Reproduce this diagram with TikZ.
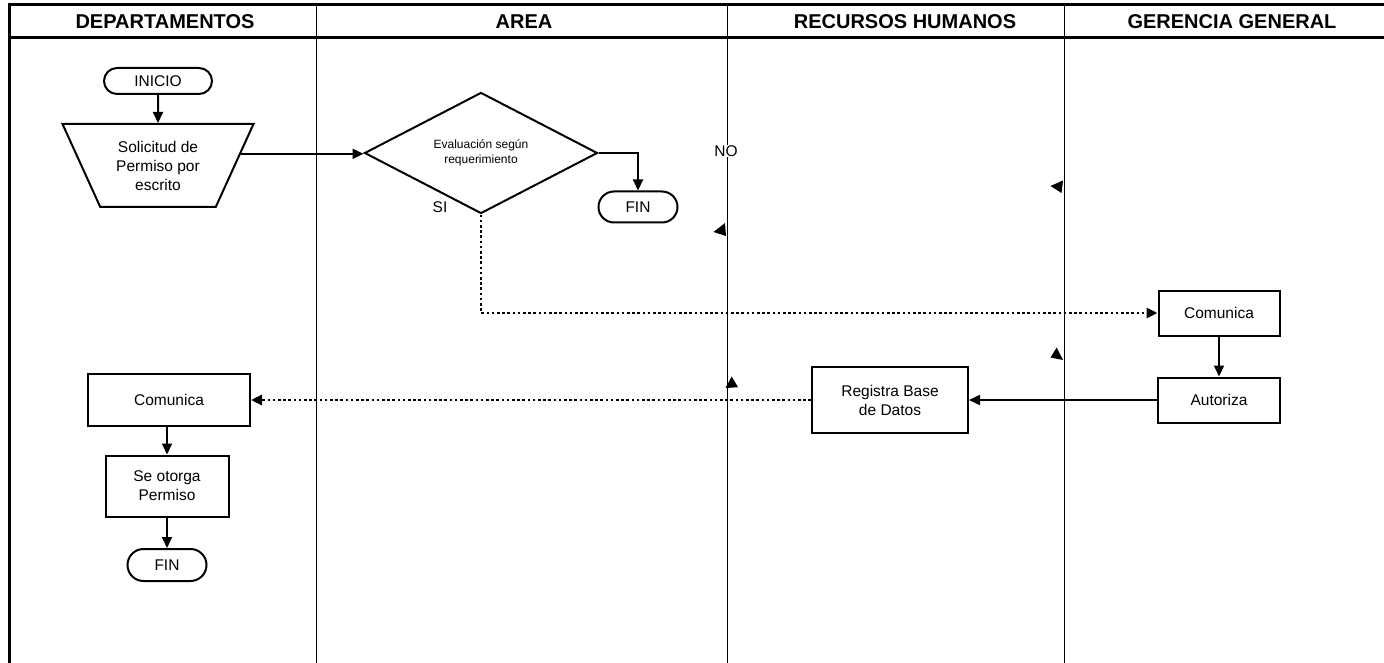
\documentclass[tikz,border=0pt]{standalone}
\usepackage{fontspec}
\setmainfont{Liberation Sans}
\usetikzlibrary{
    shapes.geometric,
    shapes.misc,
    arrows.meta
}
\tikzset{
    >={Triangle[length=11pt,width=10pt]},
    base/.style={
        draw,
        line width=2pt,
        fill=white,
        align=center,
        inner sep=0pt,
        font=\fontsize{15.5}{19}\selectfont
    },
    terminal/.style={base, rounded rectangle},
    proceso/.style={base, rectangle},
    entrada/.style={
        base,
        trapezium,
        trapezium angle=64,
        trapezium stretches body,
        shape border rotate=180,
        inner ysep=14pt
    },
    decision/.style={base, diamond, font=\fontsize{12}{15}\selectfont},
    titulo/.style={font=\bfseries\fontsize{20}{24}\selectfont},
    etiqueta/.style={font=\fontsize{15.5}{19}\selectfont},
    carril/.style={line width=1pt},
    borde/.style={line width=3pt},
    flecha/.style={->, line width=2pt},
    punteada/.style={->, line width=2.8pt, dash pattern=on 2.6pt off 2.6pt}
}
\begin{document}
\begin{tikzpicture}[
    x=1pt,
    y=-1pt
]
    \useasboundingbox (0,0) rectangle (1384,663);

    % Carriles
    \draw[borde] (9,5) -- (1384,5);
    \draw[borde] (9,38) -- (1384,38);
    \draw[borde] (9,3.5) -- (9,663);
    \foreach \x in {316,727,1064}
        \draw[carril] (\x,5) -- (\x,663);

    \node[titulo] (tdep) at (165,21.5) {DEPARTAMENTOS};
    \node[titulo] (tarea) at (524,21.5) {AREA};
    \node[titulo] (trrhh) at (905,21.5) {RECURSOS HUMANOS};
    \node[titulo] (tgg) at (1232,21.5) {GERENCIA GENERAL};

    % Nodos
    \node[terminal, minimum width=108, minimum height=26] (inicio) at (158,81) {INICIO};
    \node[entrada, minimum width=191, minimum height=83] (solicitud) at (158,165.5)
        {Solicitud de\\Permiso por\\escrito};
    \node[decision, minimum width=233, minimum height=79] (eval) at (481,153)
        {Evaluación según\\requerimiento};
    \node[terminal, minimum width=79, minimum height=31] (fin1) at (638,207) {FIN};
    \node[proceso, minimum width=121, minimum height=45] (comgg) at (1219,313) {Comunica};
    \node[proceso, minimum width=122, minimum height=45] (autoriza) at (1219,400) {Autoriza};
    \node[proceso, minimum width=156, minimum height=66] (registra) at (890,400)
        {Registra Base\\de Datos};
    \node[proceso, minimum width=162, minimum height=52] (comdep) at (169,400) {Comunica};
    \node[proceso, minimum width=123, minimum height=61] (otorga) at (167,486)
        {Se otorga\\Permiso};
    \node[terminal, minimum width=79, minimum height=32] (fin2) at (167,565) {FIN};

    \node[etiqueta] (si) at (440,207) {SI};
    \node[etiqueta, fill=white, inner sep=1pt] (no) at (726,151) {NO};

    % Conexiones
    \draw[flecha] (inicio) -- (solicitud);
    \draw[flecha] (solicitud.8.6) -- (solicitud.8.6 -| eval.west);
    \draw[flecha] (eval.east) -| (fin1.north);
    \draw[punteada] (eval.south) |- (comgg.west);
    \draw[flecha] (comgg) -- (comgg |- autoriza.north);
    \draw[flecha] (autoriza) -- (registra);
    \draw[punteada] (registra) -- (comdep);
    \draw[flecha] (comdep.south -| otorga) -- (otorga);
    \draw[flecha] (otorga) -- (fin2);

    % Puntas sueltas
    \fill (725,223) -- (713.5,232) -- (726,236) -- cycle;
    \fill (1063,180.5) -- (1050.5,186) -- (1061.5,193) -- cycle;
    \fill (1056.7,347.5) -- (1050.5,357.5) -- (1063,360) -- cycle;
    \fill (731.7,376.5) -- (725.5,388) -- (738,387.2) -- cycle;

\end{tikzpicture}
\end{document}
